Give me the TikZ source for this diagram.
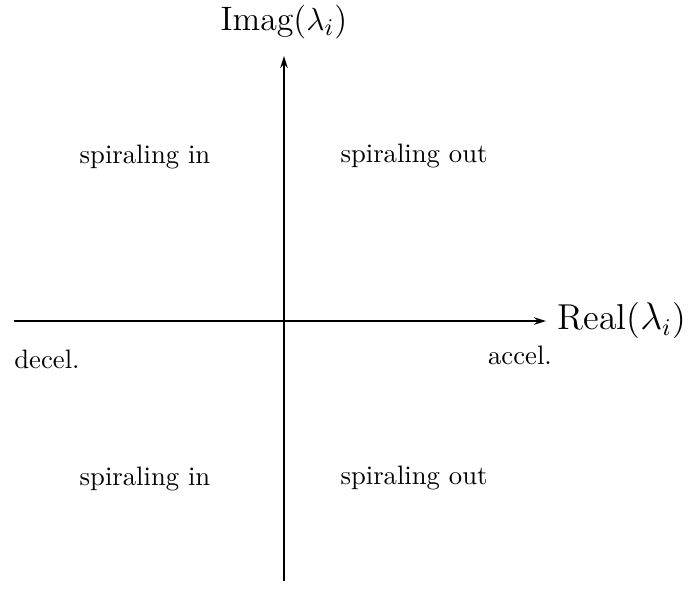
\documentclass[tikz,border=0pt]{standalone}
\usetikzlibrary{arrows.meta}
\begin{document}
\begin{tikzpicture}[x=0.375pt,y=-0.375pt,
  axis/.style={line width=0.7pt,-{Stealth[length=4.5pt,width=2.8pt]}},
  lbl/.style={inner sep=0pt},
  axlbl/.style={inner sep=0pt}]
\useasboundingbox (0,0) rectangle (689,588);
\coordinate (xs) at (14,321);
\coordinate (xe) at (546,321);
\coordinate (ys) at (284,581);
\coordinate (ye) at (284,56);
\draw[axis] (xs) -- (xe);
\draw[axis] (ys) -- (ye);
\node[axlbl,font=\fontsize{12.7}{15}\selectfont] (imag) at (284,22) {Imag($\lambda_i$)};
\node[axlbl,anchor=west,font=\fontsize{13.5}{16}\selectfont] (real) at (557,321) {Real($\lambda_i$)};
\node[lbl] (q1) at (145,157) {spiraling in};
\node[lbl] (q2) at (414,156) {spiraling out};
\node[lbl] (dec) at (47,359) {decel.};
\node[lbl] (acc) at (520,355) {accel.};
\node[lbl] (q3) at (145,479) {spiraling in};
\node[lbl] (q4) at (414,478) {spiraling out};
\end{tikzpicture}
\end{document}
